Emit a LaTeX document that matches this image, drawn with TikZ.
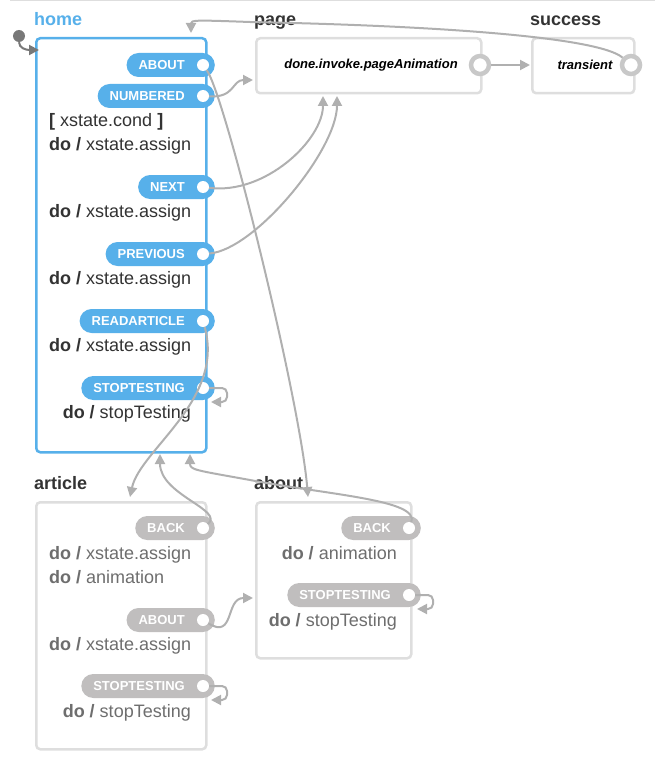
\documentclass[tikz,border=0pt]{standalone}
\usepackage{fontspec}
\setmainfont{Liberation Sans}
\usetikzlibrary{arrows.meta}
\definecolor{xblue}{RGB}{87,176,234}
\definecolor{xgray}{RGB}{192,190,190}
\definecolor{xborder}{RGB}{222,222,222}
\definecolor{xring}{RGB}{200,200,200}
\definecolor{xedge}{RGB}{176,176,176}
\definecolor{xinit}{RGB}{120,120,120}
\definecolor{xtext}{RGB}{51,51,51}
\definecolor{xdim}{RGB}{110,110,110}
\newcommand{\doact}[1]{\textbf{do /} #1}
\begin{document}
\begin{tikzpicture}[x=1pt,y=-1pt,
    statelabel/.style={font=\fontsize{18}{20}\selectfont\bfseries, text=xtext, inner sep=0pt,
      text height=13pt, text depth=0pt, anchor=west},
    statebox/.style={draw=xborder, line width=2.5pt, rounded corners=4pt, fill=white,
      anchor=north west, inner sep=0pt},
    pill/.style={rounded corners=12pt, minimum height=24pt, inner sep=0pt, text height=9.5pt,
      text depth=0pt, text=white, font=\fontsize{13}{13}\selectfont\bfseries, anchor=east,
      execute at begin node=\hspace*{12pt}, execute at end node=\hspace*{30pt}},
    bluepill/.style={pill, fill=xblue},
    graypill/.style={pill, fill=xgray},
    hole/.style={circle, fill=white, minimum size=12pt, inner sep=0pt},
    ring/.style={circle, draw=xring, line width=4.5pt, fill=white, minimum size=18pt, inner sep=0pt},
    action/.style={font=\fontsize{18}{20}\selectfont, text=xtext, inner sep=0pt,
      text height=13pt, text depth=0pt},
    dimaction/.style={action, text=xdim},
    evtext/.style={font=\fontsize{13}{13}\selectfont\bfseries\itshape, text=black, inner sep=0pt},
    trans/.style={draw=xedge, line width=2pt, -{Triangle[width=10pt,length=10pt]}},
  ]
    \useasboundingbox (0,0) rectangle (655,773);
    \draw[xborder, line width=1pt] (10,1) -- (655,1);

    % home
    \node[statelabel, text=xblue] (homeL) at (34,19) {home};
    \node[statebox, draw=xblue, minimum width=170pt, minimum height=414pt] (home) at (35,37) {};
    \foreach \n/\t/\y in {hAbout/ABOUT/65, hNumbered/NUMBERED/96, hNext/NEXT/187,
        hPrev/PREVIOUS/254, hRead/READARTICLE/321, hStop/STOPTESTING/388}{
        \node[bluepill] (\n) at (215,\y) {\t};
        \node[hole] (\n-d) at ([xshift=-12pt]\n.east) {};
    }
    \node[action, anchor=west] (hCond) at (49,120) {\textbf{[} xstate.cond \textbf{]}};
    \node[action, anchor=west] (hAct1) at (49,144) {\doact{xstate.assign}};
    \node[action, anchor=west] (hAct2) at (49,211) {\doact{xstate.assign}};
    \node[action, anchor=west] (hAct3) at (49,278) {\doact{xstate.assign}};
    \node[action, anchor=west] (hAct4) at (49,345) {\doact{xstate.assign}};
    \node[action, anchor=east] (hAct5) at (191,412) {\doact{stopTesting}};

    % page
    \node[statelabel] (pageL) at (254,19) {page};
    \node[statebox, minimum width=225pt, minimum height=55pt] (page) at (255,37) {};
    \node[evtext] (pEvt) at (371,65) {done.invoke.pageAnimation};
    \node[ring] (pRing) at (480,65) {};

    % success
    \node[statelabel] (succL) at (530,19) {success};
    \node[statebox, minimum width=102pt, minimum height=55pt] (success) at (531,37) {};
    \node[evtext] (sEvt) at (585,65) {transient};
    \node[ring] (sRing) at (631,65) {};

    % article
    \node[statelabel] (artL) at (34,483) {article};
    \node[statebox, minimum width=170pt, minimum height=247pt] (article) at (35,501) {};
    \foreach \n/\t/\y in {aBack/BACK/528, aAbout/ABOUT/620, aStop/STOPTESTING/686}{
        \node[graypill] (\n) at (215,\y) {\t};
        \node[hole] (\n-d) at ([xshift=-12pt]\n.east) {};
    }
    \node[dimaction, anchor=west] (aAct1) at (49,553) {\doact{xstate.assign}};
    \node[dimaction, anchor=west] (aAct2) at (49,577) {\doact{animation}};
    \node[dimaction, anchor=west] (aAct3) at (49,644) {\doact{xstate.assign}};
    \node[dimaction, anchor=east] (aAct4) at (191,711) {\doact{stopTesting}};

    % about
    \node[statelabel] (abL) at (254,483) {about};
    \node[statebox, minimum width=155pt, minimum height=156pt] (about) at (255,501) {};
    \foreach \n/\t/\y in {abBack/BACK/528, abStop/STOPTESTING/595}{
        \node[graypill] (\n) at (421,\y) {\t};
        \node[hole] (\n-d) at ([xshift=-12pt]\n.east) {};
    }
    \node[dimaction, anchor=east] (abAct1) at (397,553) {\doact{animation}};
    \node[dimaction, anchor=east] (abAct2) at (397,620) {\doact{stopTesting}};

    % initial state
    \node[circle, fill=xinit, minimum size=12pt, inner sep=0pt] (init) at (19,36) {};
    \coordinate (homeIn0) at (39,50);
    \draw[trans, draw=xinit] (init) .. controls (19,48) and (26,50) .. (homeIn0);

    % arrow ends
    \coordinate (homeIn1) at (191,33);
    \coordinate (homeIn2) at (160,454);
    \coordinate (homeIn3) at (190,454);
    \coordinate (pageIn1) at (253,80);
    \coordinate (pageIn2) at (323,96);
    \coordinate (pageIn3) at (337,96);
    \coordinate (succIn) at (530,65);
    \coordinate (artIn) at (130,497);
    \coordinate (abIn1) at (308,497);
    \coordinate (abIn2) at (253,598);

    % transitions
    \draw[trans] (hAbout-d) .. controls (225,95) and (300,400) .. (abIn1);
    \draw[trans] (hNumbered-d) .. controls (235,98) and (232,80) .. (pageIn1);
    \draw[trans] (hNext-d) .. controls (265,195) and (323,140) .. (pageIn2);
    \draw[trans] (hPrev-d) .. controls (255,250) and (337,150) .. (pageIn3);
    \draw[trans] (hRead-d) .. controls (225,400) and (140,450) .. (artIn);
    \draw[trans, rounded corners=5pt] (hStop-d) -- (227,388) -- (227,402) -- (211,402);
    \draw[trans] (pRing) -- (succIn);
    \draw[trans] (sRing) .. controls (600,38) and (450,26) .. (250,22)
        .. controls (195,20) and (191,20) .. (homeIn1);
    \draw[trans] (aBack-d) .. controls (225,510) and (160,495) .. (homeIn2);
    \draw[trans] (aAbout-d) .. controls (235,640) and (225,598) .. (abIn2);
    \draw[trans, rounded corners=5pt] (aStop-d) -- (227,686) -- (227,700) -- (211,700);
    \draw[trans] (abBack-d) .. controls (420,500) and (330,495) .. (250,480)
        .. controls (195,470) and (190,470) .. (homeIn3);
    \draw[trans, rounded corners=5pt] (abStop-d) -- (433,595) -- (433,609) -- (417,609);
\end{tikzpicture}
\end{document}
